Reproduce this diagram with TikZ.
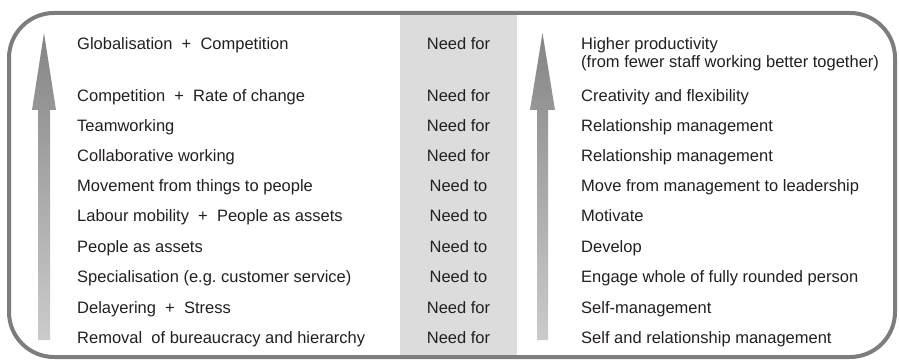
\documentclass[tikz,border=0pt]{standalone}
\usepackage{fontspec}
\setmainfont{Liberation Sans}
\usepackage{tikz}
\definecolor{framegray}{HTML}{7D7D7D}
\definecolor{bandgray}{HTML}{DCDCDD}
\definecolor{arrowtop}{HTML}{858585}
\definecolor{arrowbot}{HTML}{CBCBCB}
\definecolor{textblack}{HTML}{231F20}
\frenchspacing

\begin{document}
\begin{tikzpicture}[x=1pt, y=-1pt,
  cause/.style={anchor=base west, inner sep=0pt, text=textblack, font=\fontsize{16.5}{19}\selectfont},
  need/.style={anchor=base, inner sep=0pt, text=textblack, font=\fontsize{16.5}{19}\selectfont},
  result/.style={cause}]
\useasboundingbox (0,0) rectangle (899,363);
\fill[bandgray] (400,13) rectangle (517,357);
\draw[framegray, line width=4, rounded corners=45] (9,13) rectangle (895,357);
% the two rising arrows
\shade[top color=arrowtop, bottom color=arrowbot] (44,33) -- (56,110) -- (50,110) -- (50,340) -- (38,340) -- (38,110) -- (32,110) -- cycle;
\shade[top color=arrowtop, bottom color=arrowbot] (542.5,33) -- (555,110) -- (548,110) -- (548,340) -- (537,340) -- (537,110) -- (530,110) -- cycle;
% rows
\node[cause] (glob) at (77,50) {Globalisation\ \ +\ \ Competition};
\node[need] (globneed) at (458.5,50) {Need for};
\node[result] (globres) at (581,50) {Higher productivity};
\node[result] (globres2) at (581,68) {(from fewer staff working better together)};

\node[cause] (comp) at (77,102) {Competition\ \ +\ \ Rate of change};
\node[need] (compneed) at (458.5,102) {Need for};
\node[result] (compres) at (581,102) {Creativity and flexibility};

\node[cause] (team) at (77,132) {Teamworking};
\node[need] (teamneed) at (458.5,132) {Need for};
\node[result] (teamres) at (581,132) {Relationship management};

\node[cause] (collab) at (77,162) {Collaborative working};
\node[need] (collabneed) at (458.5,162) {Need for};
\node[result] (collabres) at (581,162) {Relationship management};

\node[cause] (move) at (77,192) {Movement from things to people};
\node[need] (moveneed) at (458.5,192) {Need to};
\node[result] (moveres) at (581,192) {Move from management to leadership};

\node[cause] (labour) at (77,222) {Labour mobility\ \ +\ \ People as assets};
\node[need] (labourneed) at (458.5,222) {Need to};
\node[result] (labourres) at (581,222) {Motivate};

\node[cause] (people) at (77,253) {People as assets};
\node[need] (peopleneed) at (458.5,253) {Need to};
\node[result] (peopleres) at (581,253) {Develop};

\node[cause] (spec) at (77,283) {Specialisation (e.g. customer service)};
\node[need] (specneed) at (458.5,283) {Need to};
\node[result] (specres) at (581,283) {Engage whole of fully rounded person};

\node[cause] (delay) at (77,313) {Delayering\ \ +\ \ Stress};
\node[need] (delayneed) at (458.5,313) {Need for};
\node[result] (delayres) at (581,313) {Self-management};

\node[cause] (removal) at (77,343) {Removal\ \ of bureaucracy and hierarchy};
\node[need] (removalneed) at (458.5,343) {Need for};
\node[result] (removalres) at (581,343) {Self and relationship management};
\end{tikzpicture}
\end{document}
